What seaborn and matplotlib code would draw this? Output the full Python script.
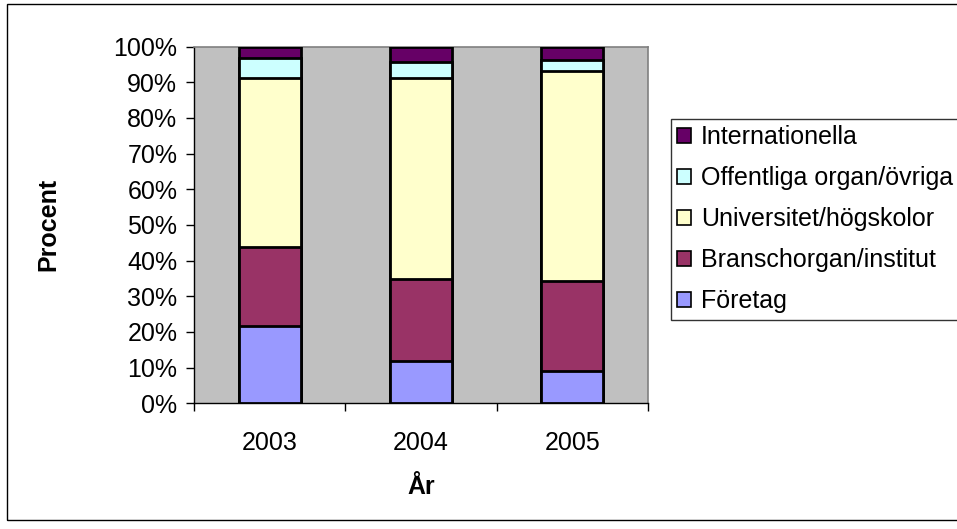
import matplotlib
matplotlib.use("Agg")
import matplotlib.pyplot as plt
from matplotlib.patches import Patch, Rectangle
from matplotlib.ticker import FixedLocator, PercentFormatter
import numpy as np
import pandas as pd
import seaborn as sns

# Share of funding per source and year (percent, bottom to top of each bar)
years = ["2003", "2004", "2005"]
foretag = [21.8, 11.8, 9.0]
branschorgan = [22.1, 23.0, 25.2]
universitet = [47.4, 56.5, 58.9]
offentliga = [5.5, 4.5, 3.2]
internationella = [3.2, 4.2, 3.7]

series_names = ["Företag", "Branschorgan/institut", "Universitet/högskolor",
                "Offentliga organ/övriga", "Internationella"]
series_values = [foretag, branschorgan, universitet, offentliga, internationella]
series_colors = ["#9999FF", "#993366", "#FFFFCC", "#CCFFFF", "#660066"]

sns.set_theme(style="white")
plt.rcParams["font.family"] = ["Liberation Sans", "DejaVu Sans"]
plt.rcParams["text.color"] = "black"
plt.rcParams["axes.labelcolor"] = "black"
plt.rcParams["xtick.color"] = "black"
plt.rcParams["ytick.color"] = "black"

FS = 18

fig = plt.figure(figsize=(9.57, 5.29), dpi=100)
ax = fig.add_axes([0.2027, 0.2376, 0.4744, 0.6744])
ax.set_facecolor("#C0C0C0")

# Cumulative heights so each segment sits on top of the previous ones
cum = np.cumsum(np.array(series_values), axis=0)
df = pd.DataFrame({"year": years})
for i in range(len(series_names) - 1, -1, -1):
    df["top"] = cum[i]
    sns.barplot(data=df, x="year", y="top", color=series_colors[i],
                saturation=1, width=0.41, edgecolor="black", linewidth=2,
                ax=ax, zorder=2 + (len(series_names) - i))

ax.set_xlim(-0.5, 2.5)
ax.set_ylim(0, 100)
ax.yaxis.set_major_locator(FixedLocator(np.arange(0, 101, 10)))
ax.yaxis.set_major_formatter(PercentFormatter(decimals=0))
ax.xaxis.set_minor_locator(FixedLocator([-0.5, 0.5, 1.5, 2.5]))

ax.tick_params(axis="y", which="major", direction="out", length=6, width=1,
               color="black", labelsize=FS, pad=6, left=True)
ax.tick_params(axis="x", which="major", length=0, labelsize=FS, pad=20)
ax.tick_params(axis="x", which="minor", direction="out", length=6, width=1,
               color="black", bottom=True)

for side in ("top", "right"):
    ax.spines[side].set_color("#808080")
    ax.spines[side].set_linewidth(1.2)
for side in ("left", "bottom"):
    ax.spines[side].set_color("black")
    ax.spines[side].set_linewidth(1)
    ax.spines[side].set_visible(True)

ax.set_xlabel("År", fontsize=FS, fontweight="bold", labelpad=14)
ax.set_ylabel("Procent", fontsize=FS, fontweight="bold", labelpad=38)

handles = [Patch(facecolor=series_colors[i], edgecolor="black", linewidth=1.2,
                 label=series_names[i]) for i in range(len(series_names) - 1, -1, -1)]
leg = fig.legend(handles=handles, loc="upper left", bbox_to_anchor=(0.701, 0.775),
                 fontsize=FS, frameon=True, fancybox=False, handlelength=0.55,
                 handleheight=0.55, handletextpad=0.4, labelspacing=0.68,
                 borderpad=0.25, borderaxespad=0)
leg.get_frame().set_edgecolor("black")
leg.get_frame().set_linewidth(1)

# Outer chart border
fig.patches.append(Rectangle((7 / 957, 1 - 520 / 529), 1.0, (520 - 4) / 529,
                             transform=fig.transFigure, fill=False,
                             edgecolor="black", linewidth=1))

fig.savefig("out.png", dpi=100)
